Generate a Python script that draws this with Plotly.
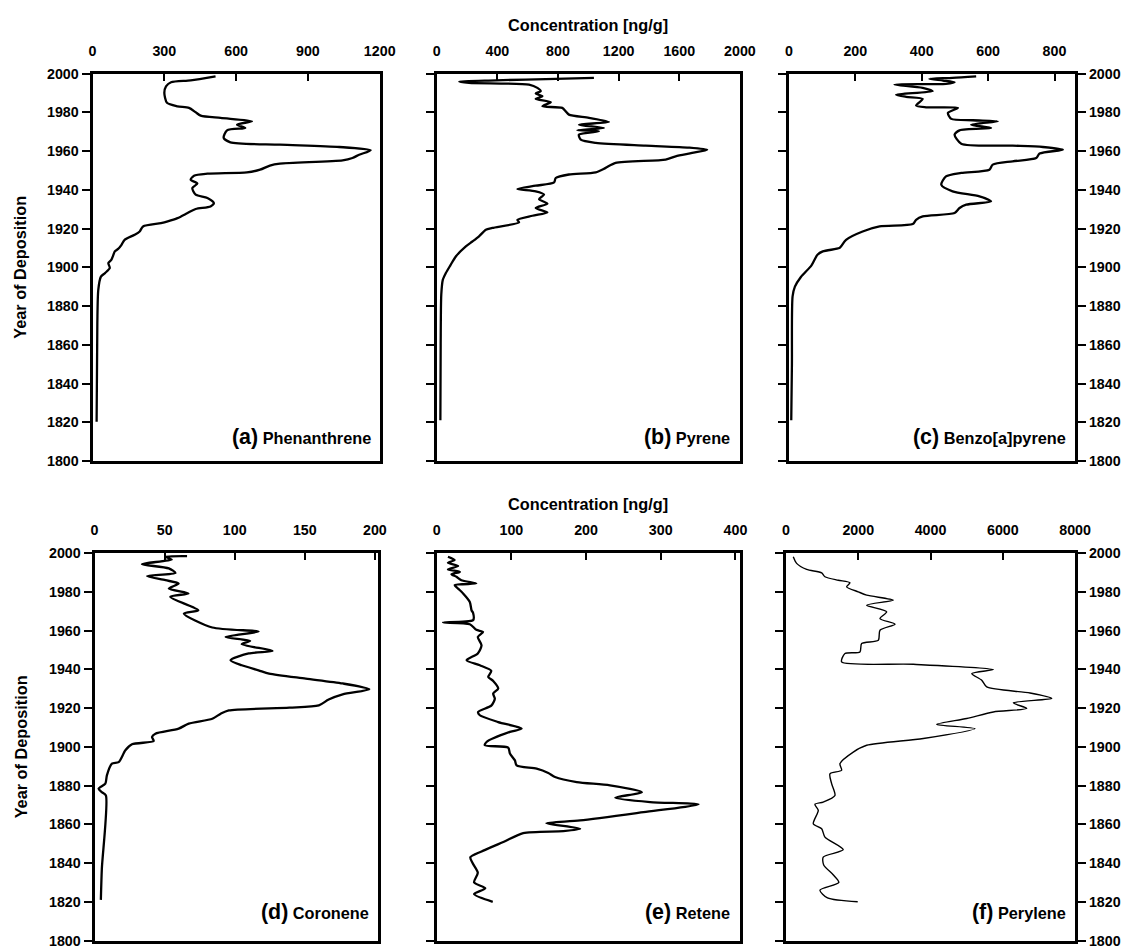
import plotly.graph_objects as go

# ---------------- data ----------------
phen_year = [1998.6, 1996.5, 1995.5, 1993.4, 1990, 1984.9, 1983.1, 1982.3, 1980, 1978.3, 1977.1, 1975.4, 1973.6,
             1971.9, 1970.7, 1966.8, 1964.5, 1963.3, 1962.1, 1960.4, 1958.1, 1956.4, 1955.2, 1953.5, 1952.5,
             1950.4, 1949, 1948.3, 1947.3, 1945.2, 1943.2, 1940.9, 1937.5, 1935.8, 1933.2, 1931.4, 1930.1,
             1928, 1925.4, 1923.7, 1922.8, 1921.1, 1918.5, 1916.8, 1914.2, 1911.6, 1909.5, 1908.2, 1906,
             1903.9, 1902.2, 1899.6, 1897, 1895.2, 1888.4, 1871.2, 1820.3]
phen_val = [514, 410, 328, 307, 300, 311, 355, 403, 431, 452, 535, 666, 604,
            638, 562, 548, 576, 783, 1031, 1162, 1114, 1086, 1045, 783, 741,
            700, 645, 480, 424, 410, 438, 417, 431, 480, 507, 493, 431,
            397, 355, 314, 286, 211, 197, 176, 134, 121, 107, 93, 86,
            79, 66, 72, 52, 35, 24, 20, 17]

pyr_year = [1997.8, 1997.3, 1996.5, 1995.9, 1995.2, 1994.3, 1992.6, 1990.9, 1989.7, 1988.3, 1986.9, 1985.2,
            1983.1, 1982.3, 1980.5, 1978.8, 1977.1, 1975, 1973.6, 1971.9, 1970.7, 1970.2, 1968.5, 1965.9,
            1964.2, 1962.8, 1961.8, 1960.7, 1959, 1957.3, 1955.6, 1953.9, 1951.3, 1949, 1947.9, 1946.1,
            1943.8, 1942.1, 1940.4, 1939.2, 1937.5, 1935.2, 1932.8, 1930.6, 1928.3, 1926.6, 1924.5, 1923.2,
            1920.3, 1919.4, 1916, 1913.3, 1910.8, 1905.6, 1901, 1897, 1893.5, 1886, 1860, 1821]
pyr_val = [1037, 785, 389, 148, 213, 609, 664, 686, 653, 697, 653, 752,
           697, 828, 851, 872, 1004, 1136, 938, 1103, 927, 1070, 938, 950,
           1049, 1378, 1663, 1784, 1685, 1576, 1510, 1180, 1114, 1049, 872, 785,
           774, 653, 532, 653, 708, 675, 730, 653, 730, 631, 532, 543,
           367, 324, 279, 235, 192, 126, 90, 60, 40, 30, 26, 24]

bap_year = [1998.6, 1997.8, 1997.3, 1996.4, 1995.5, 1994.7, 1994.3, 1992.6, 1990.9, 1989.1, 1988, 1986.9,
            1983.5, 1982.6, 1982.3, 1979.7, 1976.6, 1975.9, 1975.4, 1973.6, 1971.9, 1970.7, 1968.5, 1963.8,
            1962.8, 1962.1, 1960.7, 1958.7, 1956.4, 1954.7, 1953, 1950.4, 1948.7, 1946.9, 1942.6, 1939.2,
            1936.6, 1934, 1932.3, 1930.6, 1928, 1926.3, 1924.5, 1922.3, 1921.1, 1918.5, 1914.2, 1910.8,
            1909.9, 1908.2, 1906.5, 1901, 1895, 1890, 1885, 1850, 1821]
bap_val = [564, 493, 423, 464, 499, 473, 318, 403, 433, 323, 353, 403,
           383, 413, 509, 479, 489, 554, 629, 549, 609, 514, 499, 519,
           674, 765, 825, 755, 745, 674, 614, 604, 519, 473, 459, 493,
           574, 609, 534, 514, 499, 403, 383, 373, 273, 222, 172, 157,
           152, 102, 86, 68, 36, 18, 11, 9, 7]

cor_year = [1998.4, 1998.1, 1996.7, 1994.3, 1992.1, 1989.8, 1988.1, 1986, 1984.3, 1981.7, 1979.2, 1977.4,
            1970.5, 1968.8, 1961.6, 1959.5, 1956.7, 1954.7, 1953, 1949.5, 1948.2, 1944.7, 1942.1, 1939.5,
            1937.8, 1935.2, 1932.7, 1929.7, 1927.1, 1924.4, 1921.4, 1920.2, 1918.8, 1917.1, 1914.5, 1912,
            1909.4, 1906.8, 1905.1, 1903, 1901.3, 1898.2, 1892.1, 1891.3, 1885.3, 1881, 1878.4, 1876.6,
            1874.9, 1837, 1821]
cor_val = [66, 50.6, 55, 33.8, 53, 57.7, 37.4, 50.6, 60, 53, 67, 54,
           74, 63.7, 84, 117, 93.5, 111, 105, 127, 110, 97, 105, 117,
           124.5, 150.7, 177, 196, 177, 167, 160, 139, 95.8, 90, 84, 67.2,
           60, 43.4, 41, 42.2, 26.7, 22, 17.2, 12.4, 8.8, 7.7, 2.9, 5.2,
           8.1, 5.2, 4.5]

ret_year = [1998.1, 1996.4, 1995, 1993.3, 1991.6, 1990.3, 1989.1, 1987.8, 1986, 1984.3, 1983.5, 1981.7,
            1979.2, 1974.8, 1970.5, 1969.1, 1965.4, 1964.2, 1963.3, 1960.4, 1959.3, 1956.7, 1952.4, 1948.2,
            1944.7, 1942.1, 1939.2, 1936.1, 1934, 1930.1, 1927.5, 1924.9, 1921.4, 1918, 1916.3, 1912.8,
            1909.4, 1907.7, 1902.5, 1900.8, 1899.6, 1896.5, 1893, 1890.4, 1888.7, 1886.5, 1884.4, 1881.8,
            1880.1, 1876.6, 1873.7, 1871.5, 1870.3, 1866.3, 1862, 1860.6, 1857.7, 1856.5, 1855.5, 1851,
            1846, 1843, 1840, 1835, 1830, 1827, 1824, 1820]
ret_val = [15, 24, 15, 28.6, 15, 31, 19.7, 26.4, 33, 53, 24, 28.6,
           35.3, 44.3, 46.6, 48.7, 48.7, 8.5, 44.3, 53, 62, 55, 60, 55,
           40, 57.7, 73, 69, 75.6, 82.3, 75.6, 77.8, 73.4, 55.4, 57.7, 82.3,
           113.7, 98, 66.7, 64.4, 95.7, 98, 104.7, 107, 133.8, 149.4, 158.4, 187.5,
           232, 274.7, 239, 285.8, 350.7, 277, 192, 147, 192, 169.5, 115.8, 90,
           60, 45, 48, 55, 50, 65, 50, 75]

pery_year = [1998.1, 1994.7, 1991.6, 1989.8, 1987.8, 1986, 1984.7, 1982.6, 1980, 1978.3, 1975.7, 1973.1,
             1969.7, 1966.2, 1963.3, 1960.2, 1955, 1953.3, 1949, 1948.2, 1943.8, 1942.6, 1939.9, 1937.8,
             1934.4, 1930.9, 1927.8, 1925, 1922.7, 1919.8, 1918, 1914.6, 1911.6, 1909.4, 1904.3, 1900.8,
             1897.3, 1891.3, 1887.9, 1886.1, 1881, 1874.9, 1871.5, 1870.3, 1867.2, 1860.3, 1857.7, 1853.4,
             1846.9, 1843.1, 1839, 1834, 1830, 1826, 1822, 1820]
pery_val = [203, 296, 573, 989, 1079, 1447, 1771, 1680, 2001, 2234, 2970, 2234,
            2787, 2602, 3017, 2602, 2556, 2095, 2048, 1633, 1541, 3524, 5738, 5140,
            5417, 5556, 6755, 7355, 6292, 6663, 5738, 5002, 4172, 5231, 3801, 2234,
            1863, 1494, 1541, 1218, 1264, 1356, 1032, 803, 895, 757, 989, 1079,
            1586, 1032, 1045, 1306, 1463, 941, 1150, 1986]

panel_names = ["Phenanthrene", "Pyrene", "Benzo[a]pyrene", "Coronene", "Retene", "Perylene"]
panel_letters = ["(a)", "(b)", "(c)", "(d)", "(e)", "(f)"]
x_ticks = [[0, 300, 600, 900, 1200], [0, 400, 800, 1200, 1600, 2000], [0, 200, 400, 600, 800],
           [0, 50, 100, 150, 200], [0, 100, 200, 300, 400], [0, 2000, 4000, 6000, 8000]]
x_ranges = [[0, 1200], [0, 2000], [0, 862], [0, 202], [0, 406], [0, 8000]]
year_range = [1800, 2000]
label_year = [1812.5, 1814.5]
x_title = "Concentration [ng/g]"
y_title = "Year of Deposition"

series = [(phen_val, phen_year), (pyr_val, pyr_year), (bap_val, bap_year),
          (cor_val, cor_year), (ret_val, ret_year), (pery_val, pery_year)]

# ---------------- layout geometry ----------------
W, H = 1146, 948
# the captured page comes out slightly scaled/offset; compensate
S, OX, OY = 0.982, 12.5, 16.5


def lx(px):
    return (px - OX) / S


def ly(py):
    return (py - OY) / S


def fs(size):
    return size / S


col_px = [(93, 380), (437, 740), (789, 1075)]
col_px_bottom = [(95, 378), (437, 740), (786, 1075)]
row_px = [(74, 461), (553, 940)]

font_family = "Liberation Sans, Arial, sans-serif"
tickfont = dict(family=font_family, size=fs(14), color="black", weight="bold")

fig = go.Figure()
layout = dict(width=W, height=H, margin=dict(l=0, r=0, t=0, b=0),
              plot_bgcolor="white", paper_bgcolor="white", showlegend=False)

annotations = []
for i in range(6):
    r, c = divmod(i, 3)
    n = i + 1
    xa = "xaxis" if n == 1 else f"xaxis{n}"
    ya = "yaxis" if n == 1 else f"yaxis{n}"
    xr = "x" if n == 1 else f"x{n}"
    yr = "y" if n == 1 else f"y{n}"
    cp = col_px[c] if r == 0 else col_px_bottom[c]
    rp = row_px[r]
    vals, years = series[i]
    fig.add_trace(go.Scatter(x=vals, y=years, mode="lines", xaxis=xr, yaxis=yr,
                             line=dict(color="black", width=1.4 if i == 5 else 2.3,
                                       shape="spline", smoothing=0.7),
                             hoverinfo="skip", cliponaxis=False))
    layout[xa] = dict(domain=[lx(cp[0]) / W, lx(cp[1]) / W], anchor=yr, side="top",
                      range=x_ranges[i], tickvals=x_ticks[i], ticks="inside", ticklen=7,
                      tickwidth=2, tickcolor="black", showline=True, linewidth=3,
                      linecolor="black", mirror=True, showgrid=False, zeroline=False,
                      tickfont=tickfont, ticklabelstandoff=9, fixedrange=True)
    ydict = dict(domain=[1 - ly(rp[1]) / H, 1 - ly(rp[0]) / H], anchor=xr, range=year_range,
                 tick0=1800, dtick=20, ticks="outside", ticklen=8, tickwidth=2,
                 tickcolor="black", showline=True, linewidth=3, linecolor="black",
                 showgrid=False, zeroline=False, tickfont=tickfont, fixedrange=True)
    if c == 0:
        ydict.update(side="left", mirror=True, showticklabels=True)
    elif c == 1:
        ydict.update(side="left", mirror=True, showticklabels=False)
    else:
        ydict.update(side="right", mirror="ticks", showticklabels=True)
    layout[ya] = ydict

    annotations.append(dict(
        xref=f"{xr} domain", yref=yr, x=0.975, y=label_year[r], xanchor="right", yanchor="middle",
        text=f"<span style='font-size:{fs(21):.1f}px'>{panel_letters[i]}</span> {panel_names[i]}",
        showarrow=False, font=dict(family=font_family, size=fs(16), color="black", weight="bold")))

# axis titles
for rp in row_px:
    annotations.append(dict(xref="paper", yref="paper", x=lx(588) / W, y=1 - ly(rp[0] - 49) / H,
                            xanchor="center", yanchor="middle", text=x_title, showarrow=False,
                            font=dict(family=font_family, size=fs(16), color="black", weight="bold")))
    annotations.append(dict(xref="paper", yref="paper", x=lx(21) / W,
                            y=1 - ly((rp[0] + rp[1]) / 2) / H,
                            xanchor="center", yanchor="middle", text=y_title, textangle=-90,
                            showarrow=False,
                            font=dict(family=font_family, size=fs(16), color="black", weight="bold")))

layout["annotations"] = annotations
fig.update_layout(**layout)
fig.write_html("out.html")
